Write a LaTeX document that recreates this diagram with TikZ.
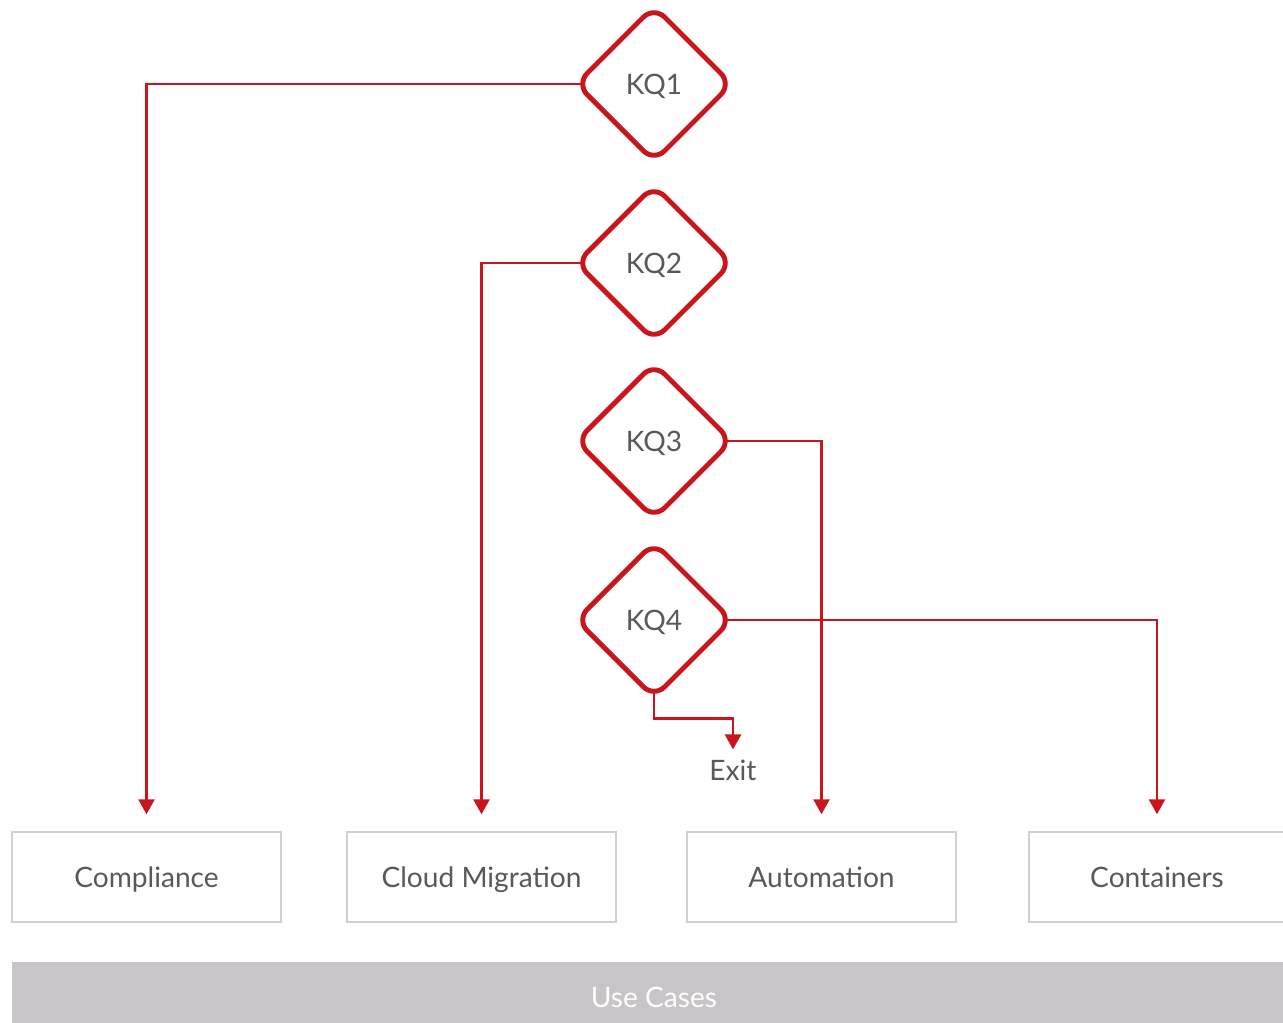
\documentclass[tikz,border=0pt]{standalone}
\usepackage{fontspec}
\setmainfont{Lato}
\usepackage{tikz}
\usetikzlibrary{arrows.meta,positioning,shapes.geometric,backgrounds}
\definecolor{rhred}{HTML}{C9161D}
\definecolor{inkgray}{HTML}{58595B}
\definecolor{edgegray}{HTML}{D0D0D0}
\definecolor{bandgray}{HTML}{C8C4C8}
\tikzset{
  lbl/.style    ={text=inkgray,font=\fontsize{16}{19}\selectfont,text height=11.6pt,text depth=0pt},
  kq/.style     ={diamond,draw=rhred,line width=2.8pt,fill=white,rounded corners=0.3cm,
                  minimum size=3.1cm,inner sep=0pt,outer sep=0pt,lbl},
  usecase/.style={rectangle,draw=edgegray,line width=0.8pt,fill=white,minimum width=5.38cm,
                  minimum height=1.8cm,lbl},
  band/.style   ={rectangle,fill=bandgray,minimum height=1.22cm},
  flow/.style   ={-{Triangle[length=0.3cm,width=0.32cm]},line width=1.4pt,draw=rhred,
                  shorten <=-0.2cm,shorten >=0.34cm}
}
\begin{document}
\begin{tikzpicture}[x=0.02cm,y=-0.02cm]
    \useasboundingbox (0,0) rectangle (1283,1023);
    % key questions
    \node[kq] (kq1) at (654,84)  {KQ1};
    \node[kq] (kq2) at (654,263) {KQ2};
    \node[kq] (kq3) at (654,441) {KQ3};
    \node[kq] (kq4) at (654,620) {KQ4};
    % use cases
    \node[usecase] (comp)  at (146.5,877) {Compliance};
    \node[usecase] (cloud) at (481.5,877) {Cloud Migration};
    \node[usecase] (auto)  at (821.5,877) {Automation};
    \node[usecase,minimum width=5.12cm] (cont) at (1157,877) {Containers};
    \node[band,minimum width=25.5cm,anchor=west] (uc) at (12,992) {};
    \node[lbl,text=white] at (654,997) {Use Cases};
    \node[lbl,inner sep=0pt] (exit) at (733,770) {Exit};
    % connectors, behind the diamonds
    \begin{scope}[on background layer]
      \draw[flow] (kq1.west) -| (comp.north);
      \draw[flow] (kq2.west) -| (cloud.north);
      \draw[flow] (kq3.east) -| (auto.north);
      \draw[flow] (kq4.east) -| (cont.north);
      \draw[flow,shorten >=0.2cm] (kq4.south) -- ++(0,21) -| (exit.north);
    \end{scope}
  \end{tikzpicture}
\end{document}
